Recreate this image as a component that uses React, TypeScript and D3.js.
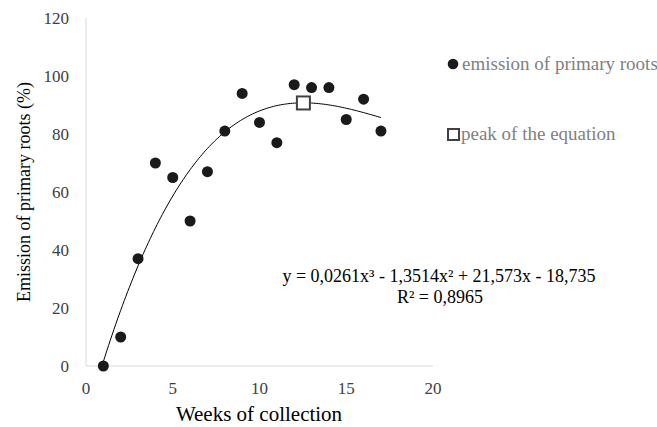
import React from 'react'
import * as d3 from 'd3'

// weeks and emission (%)
const weeks = [1, 2, 3, 4, 5, 6, 7, 8, 9, 10, 11, 12, 13, 14, 15, 16, 17]
const emission = [0, 10, 37, 70, 65, 50, 67, 81, 94, 84, 77, 97, 96, 96, 85, 92, 81]

// cubic trendline coefficients, highest power first (from the printed equation)
const coefs = [0.0261, -1.3514, 21.573, -18.735]
const peak = [12.53, 90.7]

const xTicks = [0, 5, 10, 15, 20]
const yTicks = [0, 20, 40, 60, 80, 100, 120]

const legendLabels = ['emission of primary roots', 'peak of the equation']
const eqLabel = 'y = 0,0261x³ - 1,3514x² + 21,573x - 18,735'
const r2Label = 'R² = 0,8965'

const W = 657
const H = 427
const font = "'Liberation Serif', 'DejaVu Serif', serif"

export default function App() {
  const xScale = d3.scaleLinear().domain([0, 20]).range([86, 433])
  const yScale = d3.scaleLinear().domain([0, 120]).range([366, 18])

  const poly = (x: number) => coefs.reduce((acc, c) => acc * x + c, 0)
  const curveXs = d3.range(1, 17.001, 0.1)
  const line = d3.line<number>()
    .x(d => xScale(d))
    .y(d => yScale(poly(d)))
    .curve(d3.curveMonotoneX)

  return (
    <svg width={W} height={H} style={{ display: 'block', position: 'absolute', left: 0, top: 0, fontFamily: font }}>
      <rect width={W} height={H} fill='#ffffff' />

      {/* axes */}
      <line x1={xScale(0)} x2={xScale(0)} y1={yScale(120)} y2={yScale(0)} stroke='#d9d9d9' strokeWidth={1} />
      <line x1={xScale(0)} x2={xScale(20)} y1={yScale(0)} y2={yScale(0)} stroke='#d9d9d9' strokeWidth={1} />

      {yTicks.map(t => (
        <text key={'y' + t} x={69} y={yScale(t)} dy='0.35em' textAnchor='end'
          fontSize={17} fill='#404040'>{t}</text>
      ))}
      {xTicks.map(t => (
        <text key={'x' + t} x={xScale(t)} y={394} textAnchor='middle'
          fontSize={17} fill='#404040'>{t}</text>
      ))}

      <path d={line(curveXs) || ''} fill='none' stroke='#000000' strokeWidth={1} />

      {weeks.map((w, i) => (
        <circle key={'p' + i} cx={xScale(w)} cy={yScale(emission[i])} r={5.5} fill='#1a1a1a' />
      ))}

      <rect x={xScale(peak[0]) - 6.5} y={yScale(peak[1]) - 6.5} width={13} height={13}
        fill='#ffffff' stroke='#404040' strokeWidth={2} />

      {/* equation */}
      <text x={439} y={282} textAnchor='middle' fontSize={18} fill='#000000'>{eqLabel}</text>
      <text x={440} y={303} textAnchor='middle' fontSize={18} fill='#000000'>{r2Label}</text>

      {/* axis titles */}
      <text x={259} y={421} textAnchor='middle' fontSize={21} fill='#000000'>Weeks of collection</text>
      <text transform={'translate(30,192) rotate(-90)'} textAnchor='middle' fontSize={18}
        fill='#000000'>Emission of primary roots (%)</text>

      {/* legend */}
      <circle cx={453} cy={64} r={5.3} fill='#1a1a1a' />
      <text x={462} y={70} fontSize={19} fill='#7f7f7f'>{legendLabels[0]}</text>
      <rect x={448} y={129} width={11} height={11} fill='#ffffff' stroke='#404040' strokeWidth={2} />
      <text x={461} y={140} fontSize={19} fill='#7f7f7f'>{legendLabels[1]}</text>
    </svg>
  )
}
